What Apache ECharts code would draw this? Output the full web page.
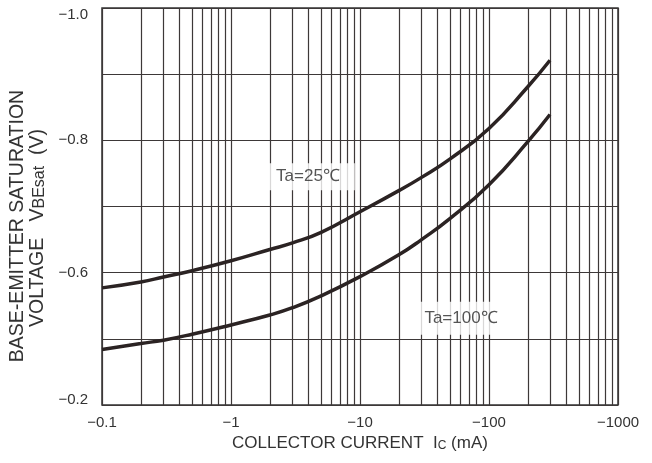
<!DOCTYPE html>
<html>
<head>
<meta charset="utf-8">
<script src="https://cdn.jsdelivr.net/npm/echarts@6/dist/echarts.min.js"></script>
<style>
  html, body { margin: 0; padding: 0; background: #fff; }
  #chart { width: 652px; height: 463px; }
</style>
</head>
<body>
<div id="chart"></div>
<script>
// Collector current (mA) and base-emitter saturation voltage (V)
const icTa25 = [0.1, 0.2, 0.3, 0.5, 1, 2, 3, 5, 10, 20, 30, 50, 100, 200, 297];
const vTa25 = [-0.577, -0.586, -0.5935, -0.603, -0.618, -0.635, -0.645, -0.661, -0.692, -0.724, -0.744, -0.772, -0.818, -0.881, -0.921];

const icTa100 = [0.1, 0.2, 0.3, 0.5, 1, 2, 3, 5, 10, 20, 30, 50, 100, 200, 297];
const vTa100 = [-0.484, -0.493, -0.498, -0.507, -0.521, -0.536, -0.547, -0.565, -0.594, -0.627, -0.650, -0.682, -0.733, -0.798, -0.839];

// Axis tick labels
const xTickLabels = {0.1: '−0.1', 1: '−1', 10: '−10', 100: '−100', 1000: '−1000'};
const yTickLabels = ['−1.0', '', '−0.8', '', '−0.6', '', '−0.2'];

// Curve annotations: [Ic, V, text]
const noteTa25 = [3.95, -0.745, 'Ta=25℃'];
const noteTa100 = [60.7, -0.531, 'Ta=100℃'];

// Intermediate log-grid lines (2..9 within every decade)
const decades = [0.1, 1, 10, 100];
const minorGrid = [];
decades.forEach(d => { for (let k = 2; k <= 9; k++) minorGrid.push(+(d * k).toPrecision(3)); });

const FONT = '"Liberation Sans", Arial, sans-serif';
const INK = '#333';
const GRID = '#3d3838';
const CURVE = '#2b2323';

const chart = echarts.init(document.getElementById('chart'), null, { renderer: 'canvas' });

function pairs(xs, ys) { return xs.map((x, i) => [x, ys[i]]); }

function noteSeries(n, pad) {
  return {
    type: 'scatter',
    silent: true,
    data: [[n[0], n[1]]],
    symbol: 'circle',
    symbolSize: 2,
    itemStyle: { color: 'rgba(0,0,0,0)' },
    z: 6,
    label: {
      show: true,
      position: 'inside',
      formatter: n[2],
      fontFamily: FONT,
      fontSize: 17,
      color: '#2a2a2a',
      backgroundColor: '#fff',
      padding: pad
    }
  };
}

chart.setOption({
  animation: false,
  backgroundColor: '#fff',
  grid: {
    left: 102, right: 34, top: 8, bottom: 58,
    show: true, borderColor: '#333', borderWidth: 1.5
  },
  xAxis: {
    type: 'log',
    logBase: 10,
    min: 0.1,
    max: 1000,
    axisLine: { show: false },
    axisTick: { show: false },
    splitLine: { show: true, lineStyle: { color: GRID, width: 1.2 } },
    axisLabel: {
      margin: 10,
      fontFamily: FONT,
      fontSize: 15,
      color: INK,
      formatter: v => xTickLabels[+(+v).toPrecision(3)] || ''
    }
  },
  yAxis: {
    type: 'value',
    inverse: true,
    min: -1.0,
    max: -0.4,
    interval: 0.1,
    axisLine: { show: false },
    axisTick: { show: false },
    splitLine: { show: true, lineStyle: { color: GRID, width: 1.2 } },
    axisLabel: {
      margin: 14,
      fontFamily: FONT,
      fontSize: 15,
      color: INK,
      formatter: v => {
        const i = Math.round((v + 1.0) / 0.1);
        const t = yTickLabels[i] || '';
        if (i === 0) return '{t|' + t + '}';
        if (i === yTickLabels.length - 1) return '{b|' + t + '}';
        return t;
      },
      rich: {
        t: { fontFamily: FONT, fontSize: 15, color: INK, padding: [14, 0, 0, 0] },
        b: { fontFamily: FONT, fontSize: 15, color: INK, padding: [0, 0, 10, 0] }
      }
    }
  },
  series: [
    {
      name: 'Ta=25℃',
      type: 'line',
      data: pairs(icTa25, vTa25),
      smooth: 0.5,
      showSymbol: false,
      lineStyle: { color: CURVE, width: 3.5 },
      z: 5,
      markLine: {
        silent: true,
        symbol: 'none',
        label: { show: false },
        lineStyle: { color: GRID, width: 1.2, type: 'solid' },
        data: minorGrid.map(v => ({ xAxis: v })),
        z: 1
      }
    },
    {
      name: 'Ta=100℃',
      type: 'line',
      data: pairs(icTa100, vTa100),
      smooth: 0.5,
      showSymbol: false,
      lineStyle: { color: CURVE, width: 3.5 },
      z: 5
    },
    noteSeries(noteTa25, [5, 15, 5, 15]),
    noteSeries(noteTa100, [8, 8, 8, 8])
  ],
  graphic: [
    {
      type: 'text',
      x: 360, y: 443,
      style: {
        text: '{n|COLLECTOR CURRENT  I}{s|C}{n| (mA)}',
        align: 'center',
        verticalAlign: 'middle',
        rich: {
          n: { fontFamily: FONT, fontSize: 17, fill: INK, color: INK },
          s: { fontFamily: FONT, fontSize: 12, fill: INK, color: INK, padding: [5, 0, 0, 0] }
        }
      }
    },
    {
      type: 'text',
      x: 18, y: 226,
      rotation: Math.PI / 2,
      style: {
        text: 'BASE-EMITTER SATURATION',
        fontFamily: FONT, fontSize: 19.5, fill: INK,
        align: 'center', verticalAlign: 'middle'
      }
    },
    {
      type: 'text',
      x: 38, y: 228,
      rotation: Math.PI / 2,
      style: {
        text: '{n|VOLTAGE   V}{s|BEsat}{n|  (V)}',
        align: 'center',
        verticalAlign: 'middle',
        rich: {
          n: { fontFamily: FONT, fontSize: 19.5, fill: INK, color: INK },
          s: { fontFamily: FONT, fontSize: 16, fill: INK, color: INK, padding: [4, 0, 0, 0] }
        }
      }
    }
  ]
});
</script>
</body>
</html>
